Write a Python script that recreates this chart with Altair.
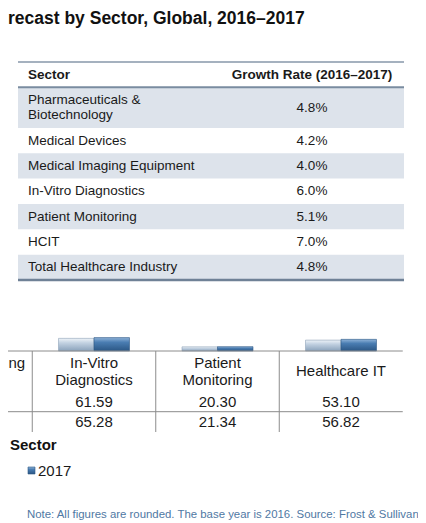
import altair as alt
import pandas as pd

# ---------------- data ----------------
title_text = "recast by Sector, Global, 2016–2017"

table_header_sector = "Sector"
table_header_rate = "Growth Rate (2016–2017)"
table_sectors = [
    "Pharmaceuticals &\nBiotechnology",
    "Medical Devices",
    "Medical Imaging Equipment",
    "In-Vitro Diagnostics",
    "Patient Monitoring",
    "HCIT",
    "Total Healthcare Industry",
]
table_rates = ["4.8%", "4.2%", "4.0%", "6.0%", "5.1%", "7.0%", "4.8%"]

categories = [
    "Medical Imaging\nEquipment",
    "In-Vitro\nDiagnostics",
    "Patient\nMonitoring",
    "Healthcare IT",
]
years = ["2016", "2017"]
revenue_2016 = [25.60, 61.59, 20.30, 53.10]
revenue_2017 = [26.62, 65.28, 21.34, 56.82]

axis_title = "Sector"
legend_years = ["2017"]
note_text = "Note: All figures are rounded. The base year is 2016. Source: Frost & Sullivan"

FONT = "Liberation Sans"
TXT = "#1a1a1a"

# ---------------- title ----------------
title_layer = alt.Chart(pd.DataFrame({"t": [title_text]})).mark_text(
    align="left", baseline="alphabetic", font=FONT, fontSize=17.5,
    fontWeight="bold", color="#111111"
).encode(x=alt.value(0), y=alt.value(15.5), text="t:N")

# ---------------- growth-rate table ----------------
lines = [s.count("\n") + 1 for s in table_sectors]
heights = [1 + 0.6 * (n - 1) for n in lines]
tops, bottoms = [], []
cur = 1.0  # header occupies 0..1
for h in heights:
    tops.append(cur)
    cur += h
    bottoms.append(cur)
total_units = cur

tbl = pd.DataFrame({
    "sector": table_sectors,
    "rate": table_rates,
    "top": tops,
    "bottom": bottoms,
    "lines": lines,
})
tbl["mid"] = (tbl["top"] + tbl["bottom"]) / 2
# first-line position so that a multi-line block is centred in its row
tbl["text_y"] = tbl["mid"] - 0.3 * (tbl["lines"] - 1)
tbl["shaded"] = [i % 2 == 0 for i in range(len(tbl))]

ty = alt.Scale(domain=[0, total_units], range=[54, 272])

shade = alt.Chart(tbl).transform_filter("datum.shaded").mark_rect(
    color="#dde3eb"
).encode(
    x=alt.value(10), x2=alt.value(396),
    y=alt.Y("top:Q", scale=ty, axis=None), y2="bottom:Q",
)

rules_df = pd.DataFrame({
    "pos": [0, 1, total_units],
    "w": [1.3, 2.0, 2.6],
    "c": ["#8797aa", "#7a8ca0", "#6f8196"],
})
table_rules = alt.Chart(rules_df).mark_rule().encode(
    x=alt.value(10), x2=alt.value(396),
    y=alt.Y("pos:Q", scale=ty, axis=None),
    strokeWidth=alt.StrokeWidth("w:Q", scale=None),
    color=alt.Color("c:N", scale=None),
)

hdr_df = pd.DataFrame({"a": [table_header_sector], "b": [table_header_rate], "mid": [0.5]})
hdr_a = alt.Chart(hdr_df).mark_text(
    align="left", baseline="middle", font=FONT, fontSize=13.5, fontWeight="bold", color=TXT
).encode(x=alt.value(20), y=alt.Y("mid:Q", scale=ty, axis=None), text="a:N")
hdr_b = alt.Chart(hdr_df).mark_text(
    align="center", baseline="middle", font=FONT, fontSize=13.5, fontWeight="bold", color=TXT
).encode(x=alt.value(304), y=alt.Y("mid:Q", scale=ty, axis=None), text="b:N")

sec_txt = alt.Chart(tbl).mark_text(
    align="left", baseline="middle", font=FONT, fontSize=13.5, lineHeight=15,
    lineBreak="\n", color=TXT
).encode(x=alt.value(20), y=alt.Y("text_y:Q", scale=ty, axis=None), text="sector:N")
rate_txt = alt.Chart(tbl).mark_text(
    align="center", baseline="middle", font=FONT, fontSize=13.5, color=TXT
).encode(x=alt.value(304), y=alt.Y("mid:Q", scale=ty, axis=None), text="rate:N")

table_layer = alt.layer(shade, table_rules, hdr_a, hdr_b, sec_txt, rate_txt)

# ---------------- bar chart with data table ----------------
bars_df = pd.DataFrame({
    "category": categories * 2,
    "year": [years[0]] * len(categories) + [years[1]] * len(categories),
    "value": revenue_2016 + revenue_2017,
})

bx = alt.Scale(domain=categories, range=[-99.25, 394.75], paddingInner=0, paddingOuter=0)
bxo = alt.Scale(domain=years, paddingInner=0, paddingOuter=0.74)
by = alt.Scale(domain=[0, 100], range=[343, 322.5])

grad_2016 = alt.Gradient(
    gradient="linear", x1=0, x2=0, y1=0, y2=1,
    stops=[alt.GradientStop(offset=0, color="#eef3f8"),
           alt.GradientStop(offset=0.35, color="#c3d2e2"),
           alt.GradientStop(offset=1, color="#8aa2bb")],
)
grad_2017 = alt.Gradient(
    gradient="linear", x1=0, x2=0, y1=0, y2=1,
    stops=[alt.GradientStop(offset=0, color="#8fb3d8"),
           alt.GradientStop(offset=0.35, color="#4a7db2"),
           alt.GradientStop(offset=1, color="#2b5684")],
)

def bar_layer(year, grad, stroke):
    return alt.Chart(bars_df).transform_filter(
        alt.datum.year == year
    ).mark_bar(color=grad, stroke=stroke, strokeWidth=0.6, clip=True).encode(
        x=alt.X("category:N", scale=bx, axis=None),
        xOffset=alt.XOffset("year:N", scale=bxo),
        y=alt.Y("value:Q", scale=by, axis=None),
    )

b16 = bar_layer("2016", grad_2016, "#8fa3b8")
b17 = bar_layer("2017", grad_2017, "#2e5884")

axis_line = alt.Chart(pd.DataFrame({"v": [0]})).mark_rule(
    color="#8c8c8c", strokeWidth=1
).encode(x=alt.value(0), x2=alt.value(394.75), y=alt.Y("v:Q", scale=by, axis=None))

sep_df = pd.DataFrame({"category": categories[1:]})
separators = alt.Chart(sep_df).mark_rule(color="#8c8c8c", strokeWidth=1).encode(
    x=alt.X("category:N", scale=bx, axis=None, bandPosition=0),
    y=alt.value(343), y2=alt.value(424),
)

row_line = alt.Chart(pd.DataFrame({"v": [0]})).mark_rule(
    color="#8c8c8c", strokeWidth=1
).encode(x=alt.value(0), x2=alt.value(394.75), y=alt.value(403.7))

cat_df = pd.DataFrame({"category": categories})
cat_df["lines"] = [c.count("\n") + 1 for c in categories]

def cat_layer(nlines, ypix):
    return alt.Chart(cat_df).transform_filter(
        alt.datum.lines == nlines
    ).mark_text(
        align="center", baseline="middle", font=FONT, fontSize=15, lineHeight=17.5,
        lineBreak="\n", color=TXT, clip=True
    ).encode(x=alt.X("category:N", scale=bx, axis=None), y=alt.value(ypix), text="category:N")

cat1 = cat_layer(1, 363.3)
cat2 = cat_layer(2, 354.6)

def val_layer(year, ypix):
    return alt.Chart(bars_df).transform_filter(
        alt.datum.year == year
    ).mark_text(
        align="center", baseline="middle", font=FONT, fontSize=15, color=TXT, clip=True
    ).encode(
        x=alt.X("category:N", scale=bx, axis=None),
        y=alt.value(ypix),
        text=alt.Text("value:Q", format=".2f"),
    )

v16 = val_layer("2016", 393.7)
v17 = val_layer("2017", 413.7)

bar_section = alt.layer(b16, b17, axis_line, separators, row_line, cat1, cat2, v16, v17)

# ---------------- axis title, legend, note ----------------
axis_title_layer = alt.Chart(pd.DataFrame({"t": [axis_title]})).mark_text(
    align="left", baseline="middle", font=FONT, fontSize=15, fontWeight="bold", color="#111111"
).encode(x=alt.value(2), y=alt.value(437), text="t:N")

leg_df = pd.DataFrame({"year": legend_years})
leg_sym = alt.Chart(leg_df).mark_rect(
    color=grad_2017, stroke="#2e5884", strokeWidth=0.6
).encode(x=alt.value(20), x2=alt.value(27), y=alt.value(459), y2=alt.value(466))
leg_txt = alt.Chart(leg_df).mark_text(
    align="left", baseline="middle", font=FONT, fontSize=15, color=TXT
).encode(x=alt.value(30), y=alt.value(462.7), text="year:N")

note_layer = alt.Chart(pd.DataFrame({"t": [note_text]})).mark_text(
    align="left", baseline="middle", font=FONT, fontSize=11.4, color="#4f78a3"
).encode(x=alt.value(19), y=alt.value(507), text="t:N")

chart = alt.layer(
    title_layer, table_layer, bar_section, axis_title_layer, leg_sym, leg_txt, note_layer
).resolve_scale(
    x="independent", y="independent"
).properties(
    width=410, height=515,
    autosize=alt.AutoSizeParams(type="none"),
    padding=0,
    background="white",
).configure_view(stroke=None)

chart.save("out.html", embed_options={"renderer": "svg", "actions": False})
